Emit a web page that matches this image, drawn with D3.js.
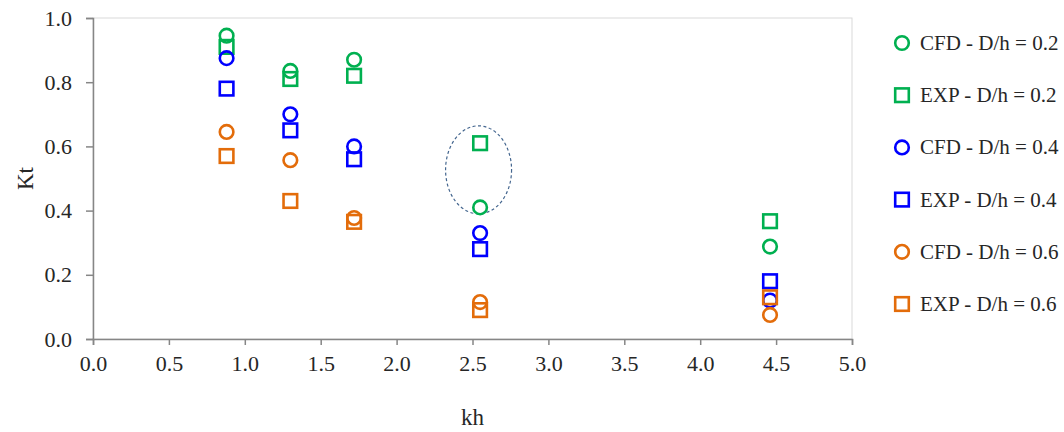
<!DOCTYPE html>
<html>
<head>
<meta charset="utf-8">
<script src="https://cdn.jsdelivr.net/npm/d3@7"></script>
<style>
  body { margin: 0; background: #fff; }
  svg text { font-family: "Liberation Serif", "DejaVu Serif", serif; fill: #262626; }
</style>
</head>
<body>
<div id="chart"></div>
<script>
// kh positions of the measurement columns
const khValues = [0.88, 1.30, 1.72, 2.55, 4.46];

// Kt per series, one value per kh column
const cfd02 = [0.945, 0.835, 0.87, 0.41, 0.288];
const exp02 = [0.91, 0.81, 0.82, 0.61, 0.367];
const cfd04 = [0.875, 0.70, 0.60, 0.33, 0.12];
const exp04 = [0.78, 0.65, 0.56, 0.28, 0.18];
const cfd06 = [0.645, 0.557, 0.377, 0.115, 0.075];
const exp06 = [0.57, 0.43, 0.365, 0.09, 0.13];

const seriesNames = ["CFD - D/h = 0.2", "EXP - D/h = 0.2", "CFD - D/h = 0.4",
                     "EXP - D/h = 0.4", "CFD - D/h = 0.6", "EXP - D/h = 0.6"];
const seriesValues = [cfd02, exp02, cfd04, exp04, cfd06, exp06];
const seriesShapes = ["circle", "square", "circle", "square", "circle", "square"];

const xTicks = [0, 0.5, 1, 1.5, 2, 2.5, 3, 3.5, 4, 4.5, 5];
const yTicks = [0, 0.2, 0.4, 0.6, 0.8, 1.0];

// highlighted region (dashed ellipse) in data units
const highlight = {kh: 2.54, kt: 0.527};

// dimensions
const width = 1064, height = 432;
const margin = {left: 93, right: 212, top: 18, bottom: 93};
const serif = '"Liberation Serif", "DejaVu Serif", serif';

const colorScale = d3.scaleOrdinal()
    .domain(["0.2", "0.4", "0.6"])
    .range(["#00b050", "#0000ff", "#e36c0a"]);

const x = d3.scaleLinear().domain([0, 5]).range([margin.left, width - margin.right]);
const y = d3.scaleLinear().domain([0, 1]).range([height - margin.bottom, margin.top]);

const svg = d3.select("#chart").append("svg")
    .attr("width", width)
    .attr("height", height);

// plot area border
svg.append("rect")
    .attr("x", x(0)).attr("y", y(1))
    .attr("width", x(5) - x(0)).attr("height", y(0) - y(1))
    .attr("fill", "none").attr("stroke", "#d9d9d9").attr("stroke-width", 1);

// axes
const xAxis = svg.append("g")
    .attr("transform", `translate(0,${y(0)})`)
    .call(d3.axisBottom(x).tickValues(xTicks).tickFormat(d3.format(".1f")).tickSizeOuter(0).tickSize(6).tickPadding(10));
const yAxis = svg.append("g")
    .attr("transform", `translate(${x(0)},0)`)
    .call(d3.axisLeft(y).tickValues(yTicks).tickFormat(d3.format(".1f")).tickSizeOuter(0).tickSize(7).tickPadding(14));

[xAxis, yAxis].forEach(g => {
    g.attr("font-family", null).attr("font-size", null);
    g.select(".domain").attr("stroke", "#868686").attr("stroke-width", 1.5);
    g.selectAll(".tick line").attr("stroke", "#868686").attr("stroke-width", 1.5);
    g.selectAll(".tick text")
        .style("font-size", "22px").style("font-family", serif).style("fill", "#262626");
});

// axis titles
svg.append("text")
    .attr("x", (x(0) + x(5)) / 2).attr("y", 425)
    .attr("text-anchor", "middle")
    .style("font-size", "23px").style("font-family", serif).text("kh");
svg.append("text")
    .attr("transform", `translate(33,${(y(0) + y(1)) / 2}) rotate(-90)`)
    .attr("text-anchor", "middle")
    .style("font-size", "23px").style("font-family", serif).text("Kt");

// dashed highlight ellipse
svg.append("ellipse")
    .attr("cx", x(highlight.kh)).attr("cy", y(highlight.kt))
    .attr("rx", 33).attr("ry", 44)
    .attr("fill", "none").attr("stroke", "#44668f").attr("stroke-width", 1.2)
    .attr("stroke-dasharray", "3,2.5");

const drawMarker = (g, shape, color, cx, cy) => {
    if (shape === "circle") {
        g.append("circle").attr("cx", cx).attr("cy", cy).attr("r", 6.8)
            .attr("fill", "none").attr("stroke", color).attr("stroke-width", 2.6);
    } else {
        g.append("rect").attr("x", cx - 6.8).attr("y", cy - 6.8)
            .attr("width", 13.6).attr("height", 13.6)
            .attr("fill", "none").attr("stroke", color).attr("stroke-width", 2.6);
    }
};

// data points, series in order so later ones sit on top
seriesValues.forEach((vals, i) => {
    const g = svg.append("g");
    const color = colorScale(seriesNames[i].slice(-3));
    vals.forEach((v, j) => drawMarker(g, seriesShapes[i], color, x(khValues[j]), y(v)));
});

// legend
const legend = svg.append("g");
seriesNames.forEach((name, i) => {
    const ly = 43 + i * 52.2;
    drawMarker(legend, seriesShapes[i], colorScale(name.slice(-3)), 902, ly);
    legend.append("text").attr("x", 920).attr("y", ly + 7)
        .style("font-size", "21px").style("font-family", serif).text(name);
});
</script>
</body>
</html>
